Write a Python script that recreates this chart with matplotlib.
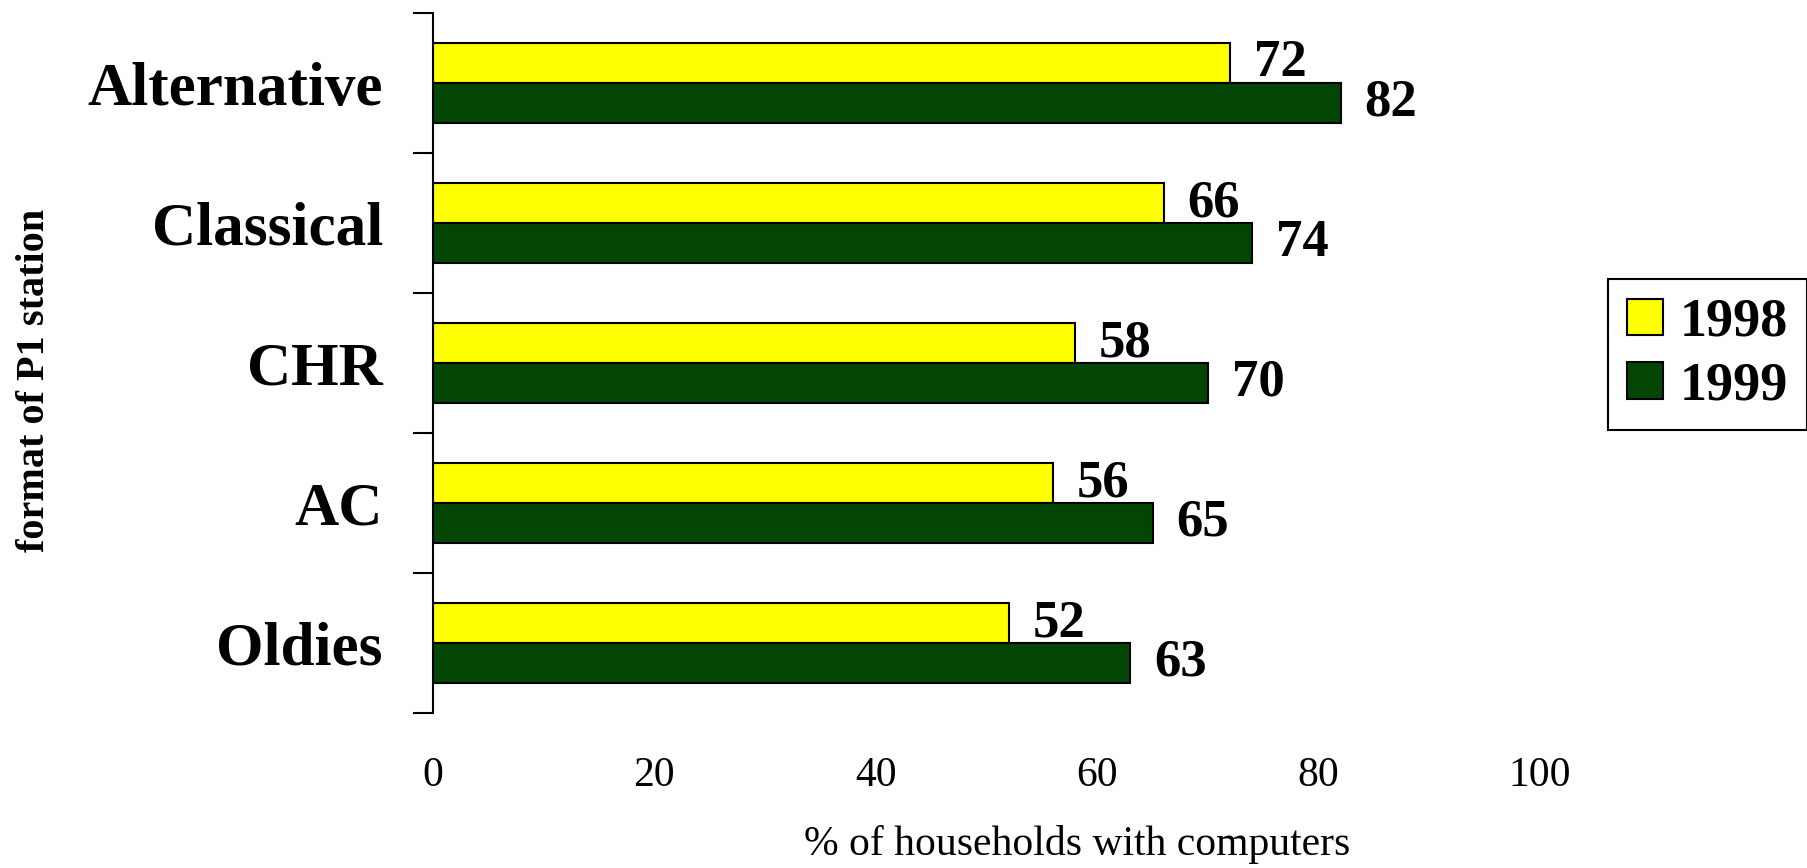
import numpy as np
import matplotlib
matplotlib.use("Agg")
import matplotlib.pyplot as plt

# datos
formatos = ['Alternative', 'Classical', 'CHR', 'AC', 'Oldies']
anios = ['1998', '1999']
valores_1998 = [72, 66, 58, 56, 52]
valores_1999 = [82, 74, 70, 65, 63]
ticks_x = [0, 20, 40, 60, 80, 100]

plt.rcParams['font.family'] = ['Liberation Serif', 'DejaVu Serif']

fig = plt.figure(figsize=(18.08, 8.68), dpi=100)
ax = fig.add_axes([433/1808, 1-713/868, (1540-433)/1808, 700/868])

y = np.arange(len(formatos))
alto = 0.2857
b1 = ax.barh(y - alto/2, valores_1998, height=alto, color='#FFFF00',
             edgecolor='black', linewidth=1.5, label=anios[0])
b2 = ax.barh(y + alto/2, valores_1999, height=alto, color='#034503',
             edgecolor='black', linewidth=1.5, label=anios[1])

# etiquetas de valor
for barras, vals in [(b1, valores_1998), (b2, valores_1999)]:
    for barra, v in zip(barras, vals):
        ax.annotate(str(v), xy=(v, barra.get_y() + barra.get_height()/2),
                    xytext=(17, 0), textcoords='offset points',
                    ha='left', va='center', fontsize=38, fontweight='bold')

ax.set_xlim(0, 100)
ax.set_ylim(len(formatos) - 0.5, -0.5)

# ticks en los limites de categoria, nombres en el centro
ax.set_yticks(np.arange(-0.5, len(formatos), 1.0))
ax.set_yticklabels([])
ax.set_yticks(y, minor=True)
ax.set_yticklabels(formatos, minor=True, fontsize=44, fontweight='bold')
ax.tick_params(axis='y', which='major', length=14.4, width=1.5, direction='out')
ax.tick_params(axis='y', which='minor', length=0, pad=36)

ax.set_xticks(ticks_x)
ax.set_xticklabels([str(t) for t in ticks_x], fontsize=30)
ax.tick_params(axis='x', length=0, pad=31)

for lado in ['top', 'right', 'bottom']:
    ax.spines[lado].set_visible(False)
ax.spines['left'].set_linewidth(1.5)

fig.text(1077/1808, 1-845/868, '% of households with computers',
         ha='center', va='center', fontsize=30)
fig.text(35/1808, 1-380/868, 'format of P1 station', rotation=90,
         ha='center', va='center', fontsize=29, fontweight='bold')

leg = fig.legend(handles=[b1, b2], labels=anios, loc='upper left',
                 bbox_to_anchor=(1608/1808, 1-279/868), borderaxespad=0,
                 prop={'weight': 'bold', 'size': 39},
                 fancybox=False, edgecolor='black', framealpha=1,
                 handlelength=0.667, handleheight=0.667, handletextpad=0.3,
                 borderpad=0.35, labelspacing=0.25)
leg.get_frame().set_linewidth(1.5)

fig.savefig('out.png', dpi=100)
